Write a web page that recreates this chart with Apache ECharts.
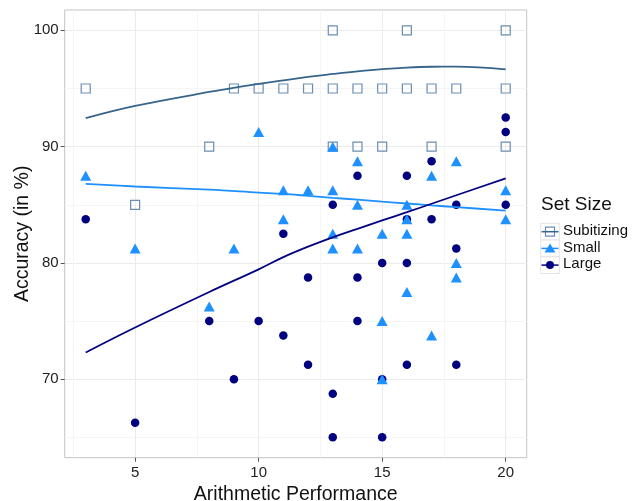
<!DOCTYPE html>
<html>
<head>
<meta charset="utf-8">
<script src="https://cdn.jsdelivr.net/npm/echarts@6/dist/echarts.min.js"></script>
<style>
html,body{margin:0;padding:0;background:#fff;}
#chart{width:632px;height:501px;}
</style>
</head>
<body>
<div id="chart"></div>
<script>
// ---- data ----
const xMajorTicks = [5, 10, 15, 20];
const xMinorTicks = [2.5, 7.5, 12.5, 17.5];
const yMajorTicks = [70, 80, 90, 100];
const yMinorTicks = [65, 75, 85, 95];

const seriesNames = ['Subitizing', 'Small', 'Large'];

const subitizingPoints = [
  [3,95],[5,85],[8,90],[9,95],[10,95],[11,95],[12,95],[13,100],[13,95],[13,90],
  [14,95],[14,90],[15,95],[15,90],[16,100],[16,95],[17,95],[17,90],[18,95],
  [20,100],[20,95],[20,90]
];
const smallPoints = [
  [3,87.5],[5,81.25],[8,76.25],[9,81.25],[10,91.25],[11,86.25],[11,83.75],[12,86.25],
  [13,90],[13,86.25],[13,82.5],[13,81.25],[14,88.75],[14,85],[14,81.25],[15,82.5],
  [15,75],[15,70],[16,85],[16,83.75],[16,82.5],[16,77.5],[17,87.5],[17,73.75],
  [18,88.75],[18,80],[18,78.75],[20,86.25],[20,83.75]
];
const largePoints = [
  [3,83.75],[5,66.25],[8,75],[9,70],[10,75],[11,82.5],[11,73.75],[12,78.75],[12,71.25],
  [13,85],[13,68.75],[13,65],[14,87.5],[14,78.75],[14,75],[15,80],[15,70],[15,65],
  [16,87.5],[16,83.75],[16,80],[16,71.25],[17,88.75],[17,83.75],[18,85],[18,81.25],
  [18,71.25],[20,92.5],[20,91.25],[20,85]
];

const fitX = [3, 5, 8, 10, 11, 12, 13, 14, 15, 16, 17, 18, 20];
const subitizingFit = [92.45, 93.5, 94.7, 95.4, 95.7, 96.0, 96.25, 96.48, 96.67, 96.8, 96.87, 96.88, 96.65];
const smallFit      = [86.8, 86.57, 86.3, 86.05, 85.93, 85.77, 85.6, 85.44, 85.27, 85.11, 84.95, 84.8, 84.5];
const largeFit      = [72.3, 74.45, 77.5, 79.45, 80.5, 81.4, 82.2, 82.93, 83.66, 84.36, 85.09, 85.82, 87.27];

// ---- styles ----
const colSubPt = '#6b8db3';
const colSubLine = '#36648B';
const colSmall = '#1E90FF';
const colLarge = '#000080';
const FONT = '"Liberation Sans", Arial, sans-serif';

const GL = 64.7, GT = 10, GW = 462, GH = 447.7;
const X0 = 2.15, X1 = 20.85, Y0 = 63.25, Y1 = 101.75;

function zipFit(ys){ return fitX.map((x,i)=>[x, ys[i]]); }

const chart = echarts.init(document.getElementById('chart'), null, {renderer:'canvas'});

function majorAxis(type, min, max, ticks, pos){
  return {
    type: 'value', min: min, max: max, position: pos,
    axisLine: {show: false},
    axisTick: {show: true, length: 4, customValues: ticks, lineStyle: {color: '#555', width: 1}},
    axisLabel: {show: true, customValues: ticks, color: '#222', fontSize: 15, fontFamily: FONT, margin: type==='x' ? 8 : 6},
    splitLine: {show: true, lineStyle: {color: '#ebebeb', width: 1}},
    name: type==='x' ? 'Arithmetic Performance' : 'Accuracy (in %)',
    nameLocation: 'middle',
    nameMoveOverlap: false,
    nameGap: type==='x' ? 27 : 32,
    nameTextStyle: {color: '#111', fontSize: 19.5, fontFamily: FONT}
  };
}
function minorAxis(min, max, ticks, pos){
  return {
    type: 'value', min: min, max: max, position: pos,
    axisLine: {show: false},
    axisTick: {show: false, customValues: ticks},
    axisLabel: {show: false, customValues: ticks},
    splitLine: {show: true, lineStyle: {color: '#f5f5f5', width: 1}}
  };
}

const legendRowY = [231.7, 248.4, 265.1];
const legendGraphics = [
  {type:'text', left: 541, top: 195, style:{text:'Set Size', fill:'#111', font:'19px ' + FONT}}
];
const keyStyles = [
  {sym:'rect', stroke: colSubPt, fill:'#fff', line: colSubLine},
  {sym:'triangle', fill: colSmall, line: colSmall},
  {sym:'circle', fill: colLarge, line: colLarge}
];
seriesNames.forEach((nm, i) => {
  const cy = legendRowY[i];
  const k = keyStyles[i];
  legendGraphics.push({type:'rect', shape:{x:540.7, y:cy-8.35, width:18.6, height:16.7}, style:{fill:'#fff', stroke:'#e3e3e3', lineWidth:1}});
  let symShape;
  if (k.sym === 'rect') symShape = {type:'rect', shape:{x:550-4.5, y:cy-4.5, width:9, height:9}, style:{fill:'none', stroke:k.stroke, lineWidth:1.2}};
  else if (k.sym === 'triangle') symShape = {type:'polygon', shape:{points:[[550,cy-5],[555.5,cy+4],[544.5,cy+4]]}, style:{fill:k.fill}};
  else symShape = {type:'circle', shape:{cx:550, cy:cy, r:4}, style:{fill:k.fill}};
  legendGraphics.push(symShape);
  legendGraphics.push({type:'line', shape:{x1:541.5, y1:cy, x2:558.5, y2:cy}, style:{stroke:k.line, lineWidth:1.5}});
  legendGraphics.push({type:'text', left: 563, top: cy-8.5, style:{text:nm, fill:'#111', font:'15px ' + FONT}});
});

const option = {
  animation: false,
  backgroundColor: '#fff',
  grid: {left: GL, top: GT, width: GW, height: GH, show: true, borderColor: '#c4c4c4', borderWidth: 1,
         backgroundColor: 'transparent', containLabel: false, outerBoundsMode: 'none'},
  xAxis: [majorAxis('x', X0, X1, xMajorTicks, 'bottom'), minorAxis(X0, X1, xMinorTicks, 'bottom')],
  yAxis: [majorAxis('y', Y0, Y1, yMajorTicks, 'left'), minorAxis(Y0, Y1, yMinorTicks, 'left')],
  series: [
    {name:'Subitizing', type:'scatter', data: subitizingPoints, symbol:'rect', symbolSize: 9,
     itemStyle:{color:'transparent', borderColor: colSubPt, borderWidth: 1.2, opacity: 1}, z: 3},
    {name:'Large', type:'scatter', data: largePoints, symbol:'circle', symbolSize: 8.5,
     itemStyle:{color: colLarge, opacity: 1}, z: 3},
    {name:'Small', type:'scatter', data: smallPoints, symbol:'triangle', symbolSize: [11, 10],
     itemStyle:{color: colSmall, opacity: 1}, z: 4},
    {name:'SubitizingFit', type:'line', data: zipFit(subitizingFit), smooth: 0.4, showSymbol: false,
     lineStyle:{color: colSubLine, width: 1.8}, z: 5},
    {name:'SmallFit', type:'line', data: zipFit(smallFit), smooth: 0.4, showSymbol: false,
     lineStyle:{color: colSmall, width: 1.8}, z: 5},
    {name:'LargeFit', type:'line', data: zipFit(largeFit), smooth: 0.4, showSymbol: false,
     lineStyle:{color: colLarge, width: 1.8}, z: 5}
  ],
  graphic: legendGraphics
};
chart.setOption(option);
</script>
</body>
</html>
